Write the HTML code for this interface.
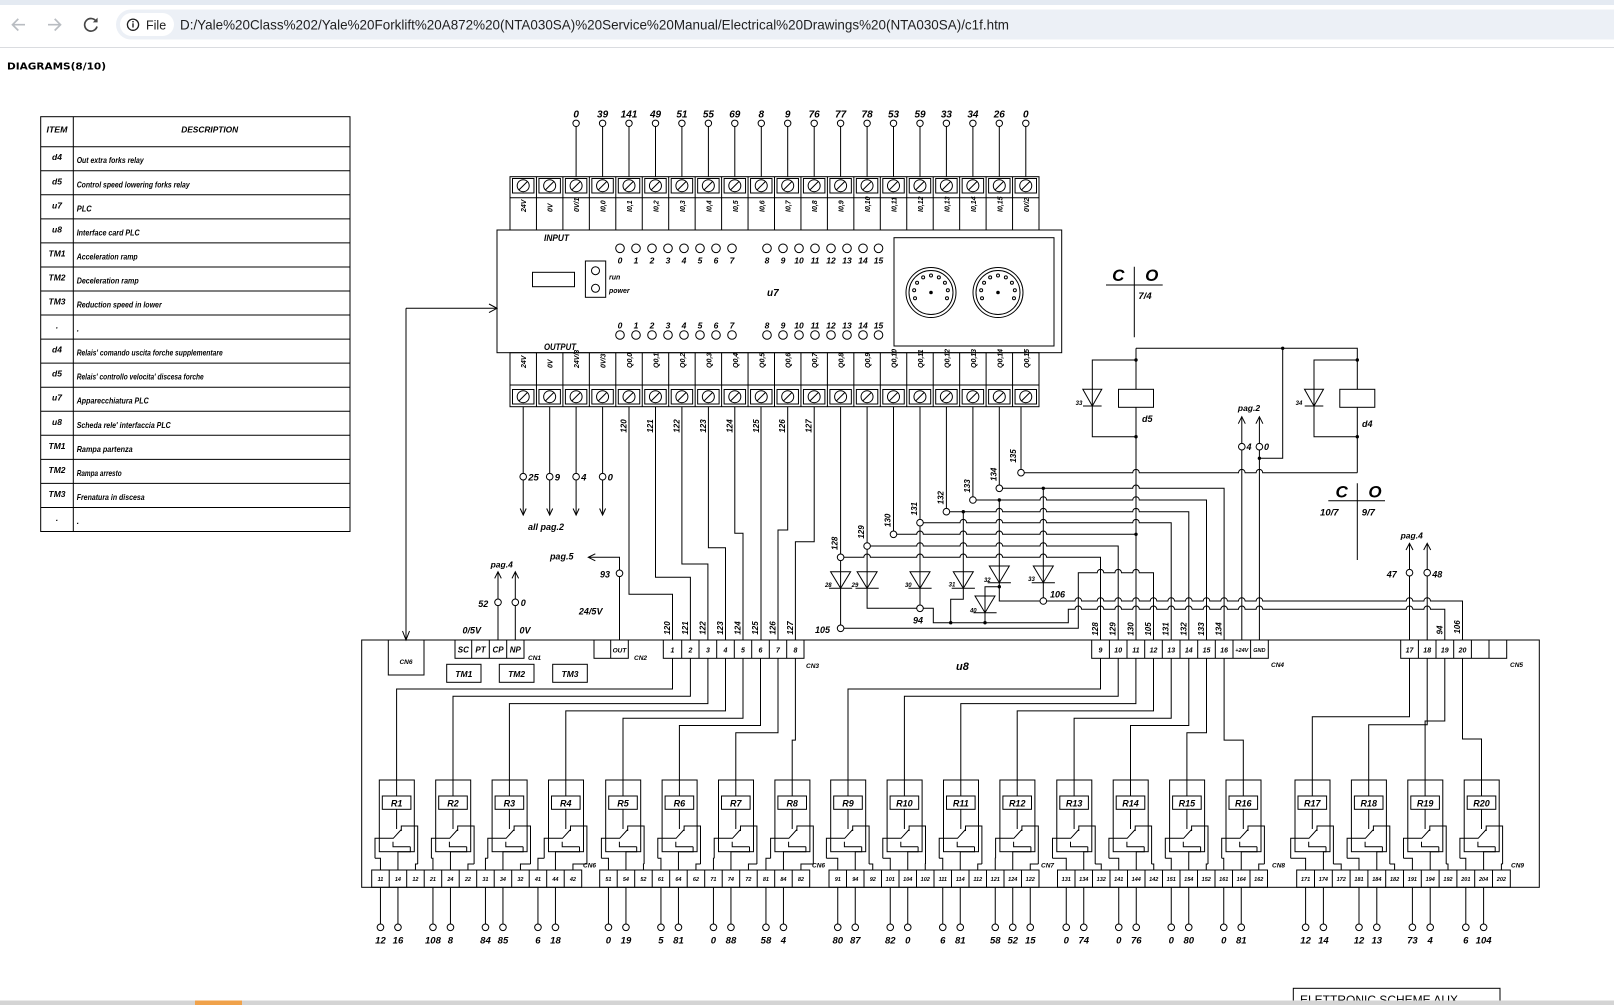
<!DOCTYPE html>
<html><head><meta charset="utf-8"><title>c1f</title>
<style>
html,body{margin:0;padding:0;background:#fff;overflow:hidden}
svg{display:block}
text{font-family:"Liberation Sans",Arial,sans-serif;font-style:italic;font-weight:bold;fill:#000}
.ui{font-style:normal;font-weight:normal;fill:#1f1f1f}
.d path,.d line,.d rect,.d circle,.d polyline,.d polygon{stroke:#000;stroke-width:1;fill:none}
.d .wf{fill:#fff}
.d .dot{fill:#000;stroke:none}
</style></head>
<body>
<svg width="1614" height="1005" viewBox="0 0 1614 1005" xmlns="http://www.w3.org/2000/svg" xmlns:xlink="http://www.w3.org/1999/xlink">
<defs>
<g id="s" fill="none" stroke="#000" stroke-width="1"><rect x="2.5" y="0" width="21.45" height="14.5"/><circle cx="13.2" cy="7.2" r="6"/><path d="M9 11.4L17.4 3"/></g>
<g id="rl" fill="none" stroke="#000" stroke-width="1"><rect x="0" y="780" width="35" height="71.7"/><rect x="3" y="796" width="28.6" height="13.3" fill="#fff"/><path d="M17.3 809.3V829M-4.3 858.3V838.3H14L22 829.5M38.4 864V826H22V831M13.7 841.7V846.7H31"/></g>
<g id="cn" fill="none" stroke="#000" stroke-width="1"><circle r="25"/><circle r="22"/><circle cx="-15.98" cy="5.81" r="1.5"/><circle cx="-16.85" cy="-2.22" r="1.5"/><circle cx="-13.93" cy="-9.75" r="1.5"/><circle cx="-7.85" cy="-15.08" r="1.5"/><circle cx="0" cy="-17" r="1.5"/><circle cx="7.85" cy="-15.08" r="1.5"/><circle cx="13.93" cy="-9.75" r="1.5"/><circle cx="16.85" cy="-2.22" r="1.5"/><circle cx="15.98" cy="5.81" r="1.5"/><circle r="1.3" fill="#000"/></g>
</defs>

<!-- browser chrome -->
<rect x="0" y="0" width="1614" height="47" fill="#ffffff"/>
<rect x="0" y="0" width="1614" height="5" fill="#e4eaf2"/>
<rect x="0" y="47" width="1614" height="1" fill="#dadce0"/>
<path d="M25 24.7H12.5M18.3 18.9L12.5 24.7L18.3 30.5" stroke="#b9bdc2" stroke-width="1.7" fill="none"/>
<path d="M48 24.7H60.5M54.7 18.9L60.5 24.7L54.7 30.5" stroke="#b9bdc2" stroke-width="1.7" fill="none"/>
<path d="M96.3 21.5A6.3 6.3 0 1 0 97 26.5" stroke="#474747" stroke-width="1.7" fill="none"/>
<path d="M97.6 17.6V22.4H92.8Z" fill="#474747"/>
<rect x="116" y="9.5" width="1520" height="30" rx="15" fill="#ecf0f6"/>
<rect x="120" y="13" width="54" height="23" rx="11.5" fill="#ffffff"/>
<circle cx="133" cy="24.7" r="5.6" stroke="#1f1f1f" stroke-width="1.3" fill="none"/>
<rect x="132.3" y="23.3" width="1.4" height="4.2" fill="#1f1f1f"/><rect x="132.3" y="21" width="1.4" height="1.4" fill="#1f1f1f"/>
<text class="ui" x="146" y="29.3" font-size="12.5">File</text>
<text class="ui" x="180" y="29.6" font-size="14" textLength="829" lengthAdjust="spacingAndGlyphs">D:/Yale%20Class%202/Yale%20Forklift%20A872%20(NTA030SA)%20Service%20Manual/Electrical%20Drawings%20(NTA030SA)/c1f.htm</text>
<text x="7" y="69.5" font-size="10" style="font-family:'DejaVu Sans',sans-serif;font-style:normal" textLength="99" lengthAdjust="spacingAndGlyphs">DIAGRAMS(8/10)</text>

<!-- table -->
<g class="d">
<rect x="40.7" y="116.7" width="309.3" height="414.8"/>
<path d="M73.3 116.7V531.5M40.7 146.7H350M40.7 170.75H350M40.7 194.8H350M40.7 218.85H350M40.7 242.9H350M40.7 266.95H350M40.7 291H350M40.7 315.05H350M40.7 339.1H350M40.7 363.15H350M40.7 387.2H350M40.7 411.25H350M40.7 435.3H350M40.7 459.35H350M40.7 483.4H350M40.7 507.45H350"/>
</g>
<g font-size="8.5">
<text x="57" y="132.5" text-anchor="middle" textLength="21" lengthAdjust="spacingAndGlyphs">ITEM</text>
<text x="209.7" y="132.5" text-anchor="middle" textLength="57" lengthAdjust="spacingAndGlyphs">DESCRIPTION</text>
<g text-anchor="middle">
<text x="57" y="160.2">d4</text><text x="57" y="184.25">d5</text><text x="57" y="208.3">u7</text><text x="57" y="232.35">u8</text>
<text x="57" y="256.4">TM1</text><text x="57" y="280.45">TM2</text><text x="57" y="304.5">TM3</text><text x="57" y="328.55">.</text>
<text x="57" y="352.6">d4</text><text x="57" y="376.65">d5</text><text x="57" y="400.7">u7</text><text x="57" y="424.75">u8</text>
<text x="57" y="448.8">TM1</text><text x="57" y="472.85">TM2</text><text x="57" y="496.9">TM3</text><text x="57" y="520.95">.</text>
</g>
<g>
<text x="76.7" y="163.2" textLength="67" lengthAdjust="spacingAndGlyphs">Out extra forks relay</text>
<text x="76.7" y="187.25" textLength="113" lengthAdjust="spacingAndGlyphs">Control speed lowering forks relay</text>
<text x="76.7" y="211.3" textLength="15" lengthAdjust="spacingAndGlyphs">PLC</text>
<text x="76.7" y="235.35" textLength="63" lengthAdjust="spacingAndGlyphs">Interface card PLC</text>
<text x="76.7" y="259.4" textLength="61" lengthAdjust="spacingAndGlyphs">Acceleration ramp</text>
<text x="76.7" y="283.45" textLength="62" lengthAdjust="spacingAndGlyphs">Deceleration ramp</text>
<text x="76.7" y="307.5" textLength="85" lengthAdjust="spacingAndGlyphs">Reduction speed in lower</text>
<text x="76.7" y="331.55">.</text>
<text x="76.7" y="355.6" textLength="146" lengthAdjust="spacingAndGlyphs">Relais' comando uscita forche supplementare</text>
<text x="76.7" y="379.65" textLength="127" lengthAdjust="spacingAndGlyphs">Relais' controllo velocita' discesa forche</text>
<text x="76.7" y="403.7" textLength="72" lengthAdjust="spacingAndGlyphs">Apparecchiatura PLC</text>
<text x="76.7" y="427.75" textLength="94" lengthAdjust="spacingAndGlyphs">Scheda rele' interfaccia PLC</text>
<text x="76.7" y="451.8" textLength="56" lengthAdjust="spacingAndGlyphs">Rampa partenza</text>
<text x="76.7" y="475.85" textLength="45" lengthAdjust="spacingAndGlyphs">Rampa arresto</text>
<text x="76.7" y="499.9" textLength="68" lengthAdjust="spacingAndGlyphs">Frenatura in discesa</text>
<text x="76.7" y="523.95">.</text>
</g>
</g>

<!-- PLC -->
<g class="d">
<path d="M576.1 126.5V176.7M602.6 126.5V176.7M629 126.5V176.7M655.5 126.5V176.7M681.9 126.5V176.7M708.4 126.5V176.7M734.8 126.5V176.7M761.3 126.5V176.7M787.7 126.5V176.7M814.2 126.5V176.7M840.6 126.5V176.7M867.1 126.5V176.7M893.5 126.5V176.7M920 126.5V176.7M946.4 126.5V176.7M972.9 126.5V176.7M999.3 126.5V176.7M1025.8 126.5V176.7"/>
<circle cx="576.1" cy="123.3" r="3.2"/><circle cx="602.6" cy="123.3" r="3.2"/><circle cx="629" cy="123.3" r="3.2"/><circle cx="655.5" cy="123.3" r="3.2"/><circle cx="681.9" cy="123.3" r="3.2"/><circle cx="708.4" cy="123.3" r="3.2"/><circle cx="734.8" cy="123.3" r="3.2"/><circle cx="761.3" cy="123.3" r="3.2"/><circle cx="787.7" cy="123.3" r="3.2"/><circle cx="814.2" cy="123.3" r="3.2"/><circle cx="840.6" cy="123.3" r="3.2"/><circle cx="867.1" cy="123.3" r="3.2"/><circle cx="893.5" cy="123.3" r="3.2"/><circle cx="920" cy="123.3" r="3.2"/><circle cx="946.4" cy="123.3" r="3.2"/><circle cx="972.9" cy="123.3" r="3.2"/><circle cx="999.3" cy="123.3" r="3.2"/><circle cx="1025.8" cy="123.3" r="3.2"/>
<rect x="510" y="176.7" width="529" height="53.3"/>
<path d="M510 197.7H1039M536.45 176.7V230M562.9 176.7V230M589.35 176.7V230M615.8 176.7V230M642.25 176.7V230M668.7 176.7V230M695.15 176.7V230M721.6 176.7V230M748.05 176.7V230M774.5 176.7V230M800.95 176.7V230M827.4 176.7V230M853.85 176.7V230M880.3 176.7V230M906.75 176.7V230M933.2 176.7V230M959.65 176.7V230M986.1 176.7V230M1012.55 176.7V230"/>
<rect x="497" y="230" width="564.7" height="122.7"/>
<rect x="510" y="352.7" width="529" height="54"/>
<path d="M510 385H1039M536.45 352.7V406.7M562.9 352.7V406.7M589.35 352.7V406.7M615.8 352.7V406.7M642.25 352.7V406.7M668.7 352.7V406.7M695.15 352.7V406.7M721.6 352.7V406.7M748.05 352.7V406.7M774.5 352.7V406.7M800.95 352.7V406.7M827.4 352.7V406.7M853.85 352.7V406.7M880.3 352.7V406.7M906.75 352.7V406.7M933.2 352.7V406.7M959.65 352.7V406.7M986.1 352.7V406.7M1012.55 352.7V406.7"/>
<rect x="532.5" y="272.3" width="42" height="14.4"/>
<rect x="585.4" y="261" width="20.3" height="36.3"/>
<circle cx="595.5" cy="270.7" r="4"/><circle cx="595.5" cy="288.3" r="4"/>
<rect x="894" y="237.7" width="160" height="108.3"/>
<circle cx="620" cy="248.3" r="4.3"/><circle cx="636" cy="248.3" r="4.3"/><circle cx="652" cy="248.3" r="4.3"/><circle cx="668" cy="248.3" r="4.3"/><circle cx="684" cy="248.3" r="4.3"/><circle cx="700" cy="248.3" r="4.3"/><circle cx="716" cy="248.3" r="4.3"/><circle cx="732" cy="248.3" r="4.3"/>
<circle cx="767" cy="248.3" r="4.3"/><circle cx="783" cy="248.3" r="4.3"/><circle cx="799" cy="248.3" r="4.3"/><circle cx="815" cy="248.3" r="4.3"/><circle cx="831" cy="248.3" r="4.3"/><circle cx="847" cy="248.3" r="4.3"/><circle cx="863" cy="248.3" r="4.3"/><circle cx="878.5" cy="248.3" r="4.3"/>
<circle cx="620" cy="335" r="4.3"/><circle cx="636" cy="335" r="4.3"/><circle cx="652" cy="335" r="4.3"/><circle cx="668" cy="335" r="4.3"/><circle cx="684" cy="335" r="4.3"/><circle cx="700" cy="335" r="4.3"/><circle cx="716" cy="335" r="4.3"/><circle cx="732" cy="335" r="4.3"/>
<circle cx="767" cy="335" r="4.3"/><circle cx="783" cy="335" r="4.3"/><circle cx="799" cy="335" r="4.3"/><circle cx="815" cy="335" r="4.3"/><circle cx="831" cy="335" r="4.3"/><circle cx="847" cy="335" r="4.3"/><circle cx="863" cy="335" r="4.3"/><circle cx="878.5" cy="335" r="4.3"/>
</g>
<use href="#cn" xlink:href="#cn" x="931" y="292.5"/>
<use href="#cn" xlink:href="#cn" x="998" y="292.5"/>
<use href="#s" xlink:href="#s" x="510" y="178.5"/><use href="#s" xlink:href="#s" x="536.45" y="178.5"/><use href="#s" xlink:href="#s" x="562.9" y="178.5"/><use href="#s" xlink:href="#s" x="589.35" y="178.5"/><use href="#s" xlink:href="#s" x="615.8" y="178.5"/><use href="#s" xlink:href="#s" x="642.25" y="178.5"/><use href="#s" xlink:href="#s" x="668.7" y="178.5"/><use href="#s" xlink:href="#s" x="695.15" y="178.5"/><use href="#s" xlink:href="#s" x="721.6" y="178.5"/><use href="#s" xlink:href="#s" x="748.05" y="178.5"/><use href="#s" xlink:href="#s" x="774.5" y="178.5"/><use href="#s" xlink:href="#s" x="800.95" y="178.5"/><use href="#s" xlink:href="#s" x="827.4" y="178.5"/><use href="#s" xlink:href="#s" x="853.85" y="178.5"/><use href="#s" xlink:href="#s" x="880.3" y="178.5"/><use href="#s" xlink:href="#s" x="906.75" y="178.5"/><use href="#s" xlink:href="#s" x="933.2" y="178.5"/><use href="#s" xlink:href="#s" x="959.65" y="178.5"/><use href="#s" xlink:href="#s" x="986.1" y="178.5"/><use href="#s" xlink:href="#s" x="1012.55" y="178.5"/>
<use href="#s" xlink:href="#s" x="510" y="389.5"/><use href="#s" xlink:href="#s" x="536.45" y="389.5"/><use href="#s" xlink:href="#s" x="562.9" y="389.5"/><use href="#s" xlink:href="#s" x="589.35" y="389.5"/><use href="#s" xlink:href="#s" x="615.8" y="389.5"/><use href="#s" xlink:href="#s" x="642.25" y="389.5"/><use href="#s" xlink:href="#s" x="668.7" y="389.5"/><use href="#s" xlink:href="#s" x="695.15" y="389.5"/><use href="#s" xlink:href="#s" x="721.6" y="389.5"/><use href="#s" xlink:href="#s" x="748.05" y="389.5"/><use href="#s" xlink:href="#s" x="774.5" y="389.5"/><use href="#s" xlink:href="#s" x="800.95" y="389.5"/><use href="#s" xlink:href="#s" x="827.4" y="389.5"/><use href="#s" xlink:href="#s" x="853.85" y="389.5"/><use href="#s" xlink:href="#s" x="880.3" y="389.5"/><use href="#s" xlink:href="#s" x="906.75" y="389.5"/><use href="#s" xlink:href="#s" x="933.2" y="389.5"/><use href="#s" xlink:href="#s" x="959.65" y="389.5"/><use href="#s" xlink:href="#s" x="986.1" y="389.5"/><use href="#s" xlink:href="#s" x="1012.55" y="389.5"/>

<!-- PLC texts -->
<g font-size="10" text-anchor="middle">
<text x="576.1" y="117.5">0</text><text x="602.6" y="117.5">39</text><text x="629" y="117.5">141</text><text x="655.5" y="117.5">49</text><text x="681.9" y="117.5">51</text><text x="708.4" y="117.5">55</text><text x="734.8" y="117.5">69</text><text x="761.3" y="117.5">8</text><text x="787.7" y="117.5">9</text><text x="814.2" y="117.5">76</text><text x="840.6" y="117.5">77</text><text x="867.1" y="117.5">78</text><text x="893.5" y="117.5">53</text><text x="920" y="117.5">59</text><text x="946.4" y="117.5">33</text><text x="972.9" y="117.5">34</text><text x="999.3" y="117.5">26</text><text x="1025.8" y="117.5">0</text>
</g>
<g font-size="7">
<text transform="translate(526.2 212) rotate(-90)">24V</text><text transform="translate(552.7 212) rotate(-90)">0V</text><text transform="translate(579.1 212) rotate(-90)">0V/1</text><text transform="translate(605.6 212) rotate(-90)">I0,0</text><text transform="translate(632 212) rotate(-90)">I0,1</text><text transform="translate(658.5 212) rotate(-90)">I0,2</text><text transform="translate(684.9 212) rotate(-90)">I0,3</text><text transform="translate(711.4 212) rotate(-90)">I0,4</text><text transform="translate(737.8 212) rotate(-90)">I0,5</text><text transform="translate(764.3 212) rotate(-90)">I0,6</text><text transform="translate(790.7 212) rotate(-90)">I0,7</text><text transform="translate(817.2 212) rotate(-90)">I0,8</text><text transform="translate(843.6 212) rotate(-90)">I0,9</text><text transform="translate(870.1 212) rotate(-90)">I0,10</text><text transform="translate(896.5 212) rotate(-90)">I0,11</text><text transform="translate(923 212) rotate(-90)">I0,12</text><text transform="translate(949.4 212) rotate(-90)">I0,13</text><text transform="translate(975.9 212) rotate(-90)">I0,14</text><text transform="translate(1002.3 212) rotate(-90)">I0,15</text><text transform="translate(1028.8 212) rotate(-90)">0V/2</text>
<text transform="translate(526.2 368) rotate(-90)">24V</text><text transform="translate(552.7 368) rotate(-90)">0V</text><text transform="translate(579.1 368) rotate(-90)">24V/3</text><text transform="translate(605.6 368) rotate(-90)">0V/3</text><text transform="translate(632 368) rotate(-90)">Q0,0</text><text transform="translate(658.5 368) rotate(-90)">Q0,1</text><text transform="translate(684.9 368) rotate(-90)">Q0,2</text><text transform="translate(711.4 368) rotate(-90)">Q0,3</text><text transform="translate(737.8 368) rotate(-90)">Q0,4</text><text transform="translate(764.3 368) rotate(-90)">Q0,5</text><text transform="translate(790.7 368) rotate(-90)">Q0,6</text><text transform="translate(817.2 368) rotate(-90)">Q0,7</text><text transform="translate(843.6 368) rotate(-90)">Q0,8</text><text transform="translate(870.1 368) rotate(-90)">Q0,9</text><text transform="translate(896.5 368) rotate(-90)">Q0,10</text><text transform="translate(923 368) rotate(-90)">Q0,11</text><text transform="translate(949.4 368) rotate(-90)">Q0,12</text><text transform="translate(975.9 368) rotate(-90)">Q0,13</text><text transform="translate(1002.3 368) rotate(-90)">Q0,14</text><text transform="translate(1028.8 368) rotate(-90)">Q0,15</text>
</g>
<text x="544" y="241" font-size="9" textLength="25" lengthAdjust="spacingAndGlyphs">INPUT</text>
<text x="544" y="350" font-size="9" textLength="32" lengthAdjust="spacingAndGlyphs">OUTPUT</text>
<text x="767" y="296" font-size="10">u7</text>
<text x="609" y="279.5" font-size="7">run</text>
<text x="609" y="293" font-size="7">power</text>
<g font-size="8.5" text-anchor="middle">
<text x="620" y="263.5">0</text><text x="636" y="263.5">1</text><text x="652" y="263.5">2</text><text x="668" y="263.5">3</text><text x="684" y="263.5">4</text><text x="700" y="263.5">5</text><text x="716" y="263.5">6</text><text x="732" y="263.5">7</text><text x="767" y="263.5">8</text><text x="783" y="263.5">9</text><text x="799" y="263.5">10</text><text x="815" y="263.5">11</text><text x="831" y="263.5">12</text><text x="847" y="263.5">13</text><text x="863" y="263.5">14</text><text x="878.5" y="263.5">15</text>
<text x="620" y="328.5">0</text><text x="636" y="328.5">1</text><text x="652" y="328.5">2</text><text x="668" y="328.5">3</text><text x="684" y="328.5">4</text><text x="700" y="328.5">5</text><text x="716" y="328.5">6</text><text x="732" y="328.5">7</text><text x="767" y="328.5">8</text><text x="783" y="328.5">9</text><text x="799" y="328.5">10</text><text x="815" y="328.5">11</text><text x="831" y="328.5">12</text><text x="847" y="328.5">13</text><text x="863" y="328.5">14</text><text x="878.5" y="328.5">15</text>
</g>

<!-- wiring below PLC -->
<g class="d">
<path d="M523.2 406.7V473.4M523.2 480V515M549.7 406.7V473.4M549.7 480V515M576.1 406.7V473.4M576.1 480V515M602.6 406.7V473.4M602.6 480V515"/>
<circle cx="523.2" cy="476.7" r="3.3"/><circle cx="549.7" cy="476.7" r="3.3"/><circle cx="576.1" cy="476.7" r="3.3"/><circle cx="602.6" cy="476.7" r="3.3"/>
<path d="M520.2 508.5L523.2 515L526.2 508.5M546.7 508.5L549.7 515L552.7 508.5M573.1 508.5L576.1 515L579.1 508.5M599.6 508.5L602.6 515L605.6 508.5"/>
<path d="M629 406.7V594.3H672.5V640M655.5 406.7V577.3H690.4V640M681.9 406.7V564H707.9V640M708.4 406.7V547.7H725.5V640M734.8 406.7V533.3H743V640M761 406.7V640M787.7 406.7V530H778V640M814.2 406.7V541.7H795.4V640"/>
<path d="M840.6 406.7V554M867.1 406.7V542.7M893.5 406.7V531M920 406.7V519.4M946.4 406.7V508.4M972.9 406.7V496.7M999.3 406.7V485M1021 406.7V469.4"/>
<path d="M840.6 560.6V625M867.1 549.3V608.3H916.7M920 526V605M963.3 511.7V599.3H950.7V622.7M999.3 500V601H1040M999.3 586.7H985V622.7M1043.3 488.3V597.7"/>
<path d="M843.9 557.3H863.8a3.3 3.3 0 0 1 6.6 0H916.7a3.3 3.3 0 0 1 6.6 0H960a3.3 3.3 0 0 1 6.6 0H996a3.3 3.3 0 0 1 6.6 0H1040a3.3 3.3 0 0 1 6.6 0H1100.5V640"/>
<path d="M870.4 546H916.7a3.3 3.3 0 0 1 6.6 0H960a3.3 3.3 0 0 1 6.6 0H996a3.3 3.3 0 0 1 6.6 0H1040a3.3 3.3 0 0 1 6.6 0H1118.2V640"/>
<path d="M896.8 534.3H916.7a3.3 3.3 0 0 1 6.6 0H960a3.3 3.3 0 0 1 6.6 0H996a3.3 3.3 0 0 1 6.6 0H1040a3.3 3.3 0 0 1 6.6 0H1136"/>
<path d="M923.3 522.7H960a3.3 3.3 0 0 1 6.6 0H996a3.3 3.3 0 0 1 6.6 0H1040a3.3 3.3 0 0 1 6.6 0H1132.7a3.3 3.3 0 0 1 6.6 0H1171.2V640"/>
<path d="M949.7 511.7H996a3.3 3.3 0 0 1 6.6 0H1040a3.3 3.3 0 0 1 6.6 0H1132.7a3.3 3.3 0 0 1 6.6 0H1188.8V640"/>
<path d="M976.2 500H1040a3.3 3.3 0 0 1 6.6 0H1132.7a3.3 3.3 0 0 1 6.6 0H1206.5V640"/>
<path d="M1002.6 488.3H1132.7a3.3 3.3 0 0 1 6.6 0H1224.1V640"/>
<path d="M1024.3 472.7H1132.7a3.3 3.3 0 0 1 6.6 0H1238.5a3.3 3.3 0 0 1 6.6 0H1256.1a3.3 3.3 0 0 1 6.6 0H1357.3"/>
<path d="M1046.6 601H1075a3.3 3.3 0 0 1 6.6 0H1097.2a3.3 3.3 0 0 1 6.6 0H1114.9a3.3 3.3 0 0 1 6.6 0H1132.7a3.3 3.3 0 0 1 6.6 0H1150.2a3.3 3.3 0 0 1 6.6 0H1167.9a3.3 3.3 0 0 1 6.6 0H1185.5a3.3 3.3 0 0 1 6.6 0H1203.2a3.3 3.3 0 0 1 6.6 0H1220.8a3.3 3.3 0 0 1 6.6 0H1238.5a3.3 3.3 0 0 1 6.6 0H1256.1a3.3 3.3 0 0 1 6.6 0H1406.2a3.3 3.3 0 0 1 6.6 0H1423.9a3.3 3.3 0 0 1 6.6 0H1462.5V640"/>
<path d="M923.3 608.3H933.3V622.7H1068.3V609.3H1075a3.3 3.3 0 0 1 6.6 0H1097.2a3.3 3.3 0 0 1 6.6 0H1114.9a3.3 3.3 0 0 1 6.6 0H1132.7a3.3 3.3 0 0 1 6.6 0H1150.2a3.3 3.3 0 0 1 6.6 0H1167.9a3.3 3.3 0 0 1 6.6 0H1185.5a3.3 3.3 0 0 1 6.6 0H1203.2a3.3 3.3 0 0 1 6.6 0H1220.8a3.3 3.3 0 0 1 6.6 0H1238.5a3.3 3.3 0 0 1 6.6 0H1256.1a3.3 3.3 0 0 1 6.6 0H1406.2a3.3 3.3 0 0 1 6.6 0H1423.9a3.3 3.3 0 0 1 6.6 0H1444.8V640"/>
<path d="M843.9 628.3H1078.3V572.7H1097.2a3.3 3.3 0 0 1 6.6 0H1114.9a3.3 3.3 0 0 1 6.6 0H1132.7a3.3 3.3 0 0 1 6.6 0H1153.5V640"/>
<circle cx="840.6" cy="557.3" r="3.3"/><circle cx="867.1" cy="546" r="3.3"/><circle cx="893.5" cy="534.3" r="3.3"/><circle cx="920" cy="522.7" r="3.3"/><circle cx="946.4" cy="511.7" r="3.3"/><circle cx="972.9" cy="500" r="3.3"/><circle cx="999.3" cy="488.3" r="3.3"/><circle cx="1021" cy="472.7" r="3.3"/>
<circle cx="840.6" cy="628.3" r="3.3"/><circle cx="920" cy="608.3" r="3.3"/><circle cx="1043.3" cy="601" r="3.3"/>
<polygon points="830.6,571.7 850.6,571.7 840.6,588.3"/><path d="M829 588.3H852.2"/>
<polygon points="857.1,571.7 877.1,571.7 867.1,588.3"/><path d="M855.5 588.3H878.7"/>
<polygon points="910,571.7 930,571.7 920,588.3"/><path d="M908.4 588.3H931.6"/>
<polygon points="953.3,571.7 973.3,571.7 963.3,588.3"/><path d="M951.7 588.3H974.9"/>
<polygon points="989.3,566 1009.3,566 999.3,582.7"/><path d="M987.7 582.7H1010.9"/>
<polygon points="1033.3,566 1053.3,566 1043.3,582.7"/><path d="M1031.7 582.7H1054.9"/>
<polygon points="975,596 995,596 985,612.7"/><path d="M973.4 612.7H996.6"/>
<circle class="dot" cx="963.3" cy="511.7" r="1.7"/><circle class="dot" cx="999.3" cy="500" r="1.7"/><circle class="dot" cx="1043.3" cy="488.3" r="1.7"/><circle class="dot" cx="1136" cy="534.3" r="1.7"/><circle class="dot" cx="999.3" cy="586.7" r="1.7"/><circle class="dot" cx="950.7" cy="622.7" r="1.7"/><circle class="dot" cx="985" cy="622.7" r="1.7"/>

<!-- relays d5 d4 -->
<path d="M1136 348.3V640M1136 348.3H1357.3V472.7M1136 360H1092.3V436.7H1136M1357.3 360H1314V436.7H1357.3M1282.7 348.3V458.3H1259.4M1241.8 416.7V640M1259.4 416.7V640"/>
<path d="M1238.3 423.7L1241.8 416.7L1245.3 423.7M1255.9 423.7L1259.4 416.7L1262.9 423.7"/>
<circle class="wf" cx="1241.8" cy="446.7" r="3.3"/><circle class="wf" cx="1259.4" cy="446.7" r="3.3"/>
<rect class="wf" x="1118.5" y="389.3" width="35" height="18"/>
<rect class="wf" x="1339.8" y="389.3" width="35" height="18"/>
<polygon points="1082.8,389.3 1101.8,389.3 1092.3,406"/><path d="M1083 406H1101.6"/>
<polygon points="1304.5,389.3 1323.5,389.3 1314,406"/><path d="M1304.7 406H1323.3"/>
<circle class="dot" cx="1136" cy="360" r="1.7"/><circle class="dot" cx="1136" cy="436.7" r="1.7"/><circle class="dot" cx="1357.3" cy="360" r="1.7"/><circle class="dot" cx="1357.3" cy="436.7" r="1.7"/><circle class="dot" cx="1282.7" cy="348.3" r="1.7"/><circle class="dot" cx="1259.4" cy="458.3" r="1.7"/>
<path d="M1106 285H1162.7M1134.3 266.7V337.3M1328.3 500.7H1385M1357.3 483.3V560"/>
<path d="M1409.5 543.3V640M1427.2 543.3V640M1406 550L1409.5 543.3L1413 550M1423.7 550L1427.2 543.3L1430.7 550"/>
<circle class="wf" cx="1409.5" cy="572.7" r="3.3"/><circle class="wf" cx="1427.2" cy="572.7" r="3.3"/>

<!-- card u8 -->
<rect x="361.7" y="640" width="1177.6" height="247.3"/>
<rect x="388.3" y="640" width="35.7" height="35"/>
<path d="M406 308.3V640M406 308.3H497M489 304L497 308.3L489 312.6M402.5 631L406 640L409.5 631"/>
<rect x="455" y="640" width="69" height="18.3"/><path d="M471.7 640V658.3M489.3 640V658.3M506.7 640V658.3"/>
<rect x="446.7" y="664.3" width="34.3" height="18"/><rect x="499.3" y="664.3" width="34.7" height="18"/><rect x="552.7" y="664.3" width="34.6" height="18"/>
<path d="M498 571.7V640M515.3 571.7V640M494.7 578.4L498 571.7L501.3 578.4M512 578.4L515.3 571.7L518.6 578.4"/>
<circle class="wf" cx="498" cy="602.3" r="3.3"/><circle class="wf" cx="515.3" cy="602.3" r="3.3"/>
<rect x="594" y="640" width="34.3" height="18.3"/><path d="M610.7 640V658.3"/>
<path d="M619.5 640V557.3H588.8M595.3 553.8L588.3 557.3L595.3 560.8"/>
<circle class="wf" cx="619.5" cy="573.3" r="3.3"/>
<rect x="663.3" y="640" width="140.7" height="18.3"/><path d="M681.7 640V658.3M699 640V658.3M716.7 640V658.3M734.3 640V658.3M751.7 640V658.3M769.3 640V658.3M786.7 640V658.3"/>
<rect x="1091.7" y="640" width="176.6" height="18.3"/><path d="M1109.4 640V658.3M1127 640V658.3M1144.7 640V658.3M1162.3 640V658.3M1180 640V658.3M1197.7 640V658.3M1215.3 640V658.3M1233 640V658.3M1250.6 640V658.3"/>
<rect x="1400.7" y="640" width="106" height="18.3"/><path d="M1418.4 640V658.3M1436 640V658.3M1453.7 640V658.3M1471.4 640V658.3M1489 640V658.3"/>
<!-- coil wiring -->
<path d="M672.5 658.3V689H396.6V796M690.4 658.3V696.3H453V796M707.9 658.3V703.6H509.4V796M725.5 658.3V710.9H565.8V796M743 658.3V718.2H623V796M760.5 658.3V725.5H679.4V796M778 658.3V732.8H735.8V796M795.4 658.3V740.1H792.2V796"/>
<path d="M1100.5 658.3V689H848V796M1118.2 658.3V696.3H904.4V796M1135.9 658.3V703.6H960.8V796M1153.5 658.3V710.9H1017.2V796M1171.2 658.3V718.2H1074.1V796M1188.8 658.3V725.5H1130.5V796M1206.5 658.3V732.8H1186.9V796M1224.1 658.3V740.1H1243.3V796"/>
<path d="M1409.5 658.3V716.7H1312.3V796M1427.2 658.3V724.7H1368.7V796M1444.8 658.3V721H1425.1V796M1462.5 658.3V739H1481.5V796"/>
<!-- relay terminal strips -->
<rect x="371.7" y="870" width="210" height="17.3"/><path d="M389.2 870v17.3M406.7 870v17.3M424.2 870v17.3M441.7 870v17.3M459.2 870v17.3M476.7 870v17.3M494.2 870v17.3M511.7 870v17.3M529.2 870v17.3M546.7 870v17.3M564.2 870v17.3"/>
<rect x="599.7" y="870" width="210" height="17.3"/><path d="M617.2 870v17.3M634.7 870v17.3M652.2 870v17.3M669.7 870v17.3M687.2 870v17.3M704.7 870v17.3M722.2 870v17.3M739.7 870v17.3M757.2 870v17.3M774.7 870v17.3M792.2 870v17.3"/>
<rect x="829" y="870" width="210" height="17.3"/><path d="M846.5 870v17.3M864 870v17.3M881.5 870v17.3M899 870v17.3M916.5 870v17.3M934 870v17.3M951.5 870v17.3M969 870v17.3M986.5 870v17.3M1004 870v17.3M1021.5 870v17.3"/>
<rect x="1057.5" y="870" width="210" height="17.3"/><path d="M1075 870v17.3M1092.5 870v17.3M1110 870v17.3M1127.5 870v17.3M1145 870v17.3M1162.5 870v17.3M1180 870v17.3M1197.5 870v17.3M1215 870v17.3M1232.5 870v17.3M1250 870v17.3"/>
<rect x="1296.7" y="870" width="213.6" height="17.3"/><path d="M1314.5 870v17.3M1332.3 870v17.3M1350.1 870v17.3M1367.9 870v17.3M1385.7 870v17.3M1403.5 870v17.3M1421.3 870v17.3M1439.1 870v17.3M1456.9 870v17.3M1474.7 870v17.3M1492.5 870v17.3"/>
<!-- relay contact terminal links -->
<path d="M380.45 870V858.3H375M397.95 870V851.7H410.3V846.7M415.45 870V864H417.7
M432.95 870V858.3H431.4M450.45 870V851.7H466.7V846.7M467.95 870V864H474.1
M485.45 870V858.3H487.8M502.95 870V851.7H523.1V846.7M520.45 870V864H530.5
M537.95 870V858.3H544.2M555.45 870V851.7H579.5V846.7M572.95 870V864H586.9
M608.45 870V858.3H601.4M625.95 870V851.7H636.7V846.7M643.45 870V864H644.1
M660.95 870V858.3H657.8M678.45 870V851.7H693.1V846.7M695.95 870V864H700.5
M713.45 870V858.3H714.2M730.95 870V851.7H749.5V846.7M748.45 870V864H756.9
M765.95 870V858.3H770.6M783.45 870V851.7H805.9V846.7M800.95 870V864H813.3
M837.75 870V858.3H826.4M855.25 870V851.7H861.7V846.7M872.75 870V864H869.1
M890.25 870V858.3H882.8M907.75 870V851.7H918.1V846.7M925.25 870V864H925.5
M942.75 870V858.3H939.2M960.25 870V851.7H974.5V846.7M977.75 870V864H981.9
M995.25 870V858.3H995.6M1012.75 870V851.7H1030.9V846.7M1030.25 870V864H1038.3
M1066.25 870V858.3H1052.5M1083.75 870V851.7H1087.8V846.7M1101.25 870V864H1095.2
M1118.75 870V858.3H1108.9M1136.25 870V851.7H1144.2V846.7M1153.75 870V864H1151.6
M1171.25 870V858.3H1165.3M1188.75 870V851.7H1200.6V846.7M1206.25 870V864H1208
M1223.75 870V858.3H1221.7M1241.25 870V851.7H1257V846.7M1258.75 870V864H1264.4
M1305.6 870V858.3H1290.7M1323.4 870V851.7H1326V846.7M1341.2 870V864H1333.4
M1359 870V858.3H1347.1M1376.8 870V851.7H1382.4V846.7M1394.6 870V864H1389.8
M1412.4 870V858.3H1403.5M1430.2 870V851.7H1438.8V846.7M1448 870V864H1446.2
M1465.8 870V858.3H1459.9M1483.6 870V851.7H1495.2V846.7M1501.4 870V864H1502.6"/>
<!-- output lines -->
<path d="M380.45 887.3V924M397.95 887.3V924M432.95 887.3V924M450.45 887.3V924M485.45 887.3V924M502.95 887.3V924M537.95 887.3V924M555.45 887.3V924M608.45 887.3V924M625.95 887.3V924M660.95 887.3V924M678.45 887.3V924M713.45 887.3V924M730.95 887.3V924M765.95 887.3V924M783.45 887.3V924M837.75 887.3V924M855.25 887.3V924M890.25 887.3V924M907.75 887.3V924M942.75 887.3V924M960.25 887.3V924M995.25 887.3V924M1012.75 887.3V924M1030.25 887.3V924M1066.25 887.3V924M1083.75 887.3V924M1118.75 887.3V924M1136.25 887.3V924M1171.25 887.3V924M1188.75 887.3V924M1223.75 887.3V924M1241.25 887.3V924M1305.6 887.3V924M1323.4 887.3V924M1359 887.3V924M1376.8 887.3V924M1412.4 887.3V924M1430.2 887.3V924M1465.8 887.3V924M1483.6 887.3V924"/>
<circle cx="380.45" cy="927.3" r="3.3"/><circle cx="397.95" cy="927.3" r="3.3"/><circle cx="432.95" cy="927.3" r="3.3"/><circle cx="450.45" cy="927.3" r="3.3"/><circle cx="485.45" cy="927.3" r="3.3"/><circle cx="502.95" cy="927.3" r="3.3"/><circle cx="537.95" cy="927.3" r="3.3"/><circle cx="555.45" cy="927.3" r="3.3"/><circle cx="608.45" cy="927.3" r="3.3"/><circle cx="625.95" cy="927.3" r="3.3"/><circle cx="660.95" cy="927.3" r="3.3"/><circle cx="678.45" cy="927.3" r="3.3"/><circle cx="713.45" cy="927.3" r="3.3"/><circle cx="730.95" cy="927.3" r="3.3"/><circle cx="765.95" cy="927.3" r="3.3"/><circle cx="783.45" cy="927.3" r="3.3"/><circle cx="837.75" cy="927.3" r="3.3"/><circle cx="855.25" cy="927.3" r="3.3"/><circle cx="890.25" cy="927.3" r="3.3"/><circle cx="907.75" cy="927.3" r="3.3"/><circle cx="942.75" cy="927.3" r="3.3"/><circle cx="960.25" cy="927.3" r="3.3"/><circle cx="995.25" cy="927.3" r="3.3"/><circle cx="1012.75" cy="927.3" r="3.3"/><circle cx="1030.25" cy="927.3" r="3.3"/><circle cx="1066.25" cy="927.3" r="3.3"/><circle cx="1083.75" cy="927.3" r="3.3"/><circle cx="1118.75" cy="927.3" r="3.3"/><circle cx="1136.25" cy="927.3" r="3.3"/><circle cx="1171.25" cy="927.3" r="3.3"/><circle cx="1188.75" cy="927.3" r="3.3"/><circle cx="1223.75" cy="927.3" r="3.3"/><circle cx="1241.25" cy="927.3" r="3.3"/><circle cx="1305.6" cy="927.3" r="3.3"/><circle cx="1323.4" cy="927.3" r="3.3"/><circle cx="1359" cy="927.3" r="3.3"/><circle cx="1376.8" cy="927.3" r="3.3"/><circle cx="1412.4" cy="927.3" r="3.3"/><circle cx="1430.2" cy="927.3" r="3.3"/><circle cx="1465.8" cy="927.3" r="3.3"/><circle cx="1483.6" cy="927.3" r="3.3"/>
</g>
<use href="#rl" xlink:href="#rl" x="379.3"/><use href="#rl" xlink:href="#rl" x="435.7"/><use href="#rl" xlink:href="#rl" x="492.1"/><use href="#rl" xlink:href="#rl" x="548.5"/>
<use href="#rl" xlink:href="#rl" x="605.7"/><use href="#rl" xlink:href="#rl" x="662.1"/><use href="#rl" xlink:href="#rl" x="718.5"/><use href="#rl" xlink:href="#rl" x="774.9"/>
<use href="#rl" xlink:href="#rl" x="830.7"/><use href="#rl" xlink:href="#rl" x="887.1"/><use href="#rl" xlink:href="#rl" x="943.5"/><use href="#rl" xlink:href="#rl" x="999.9"/>
<use href="#rl" xlink:href="#rl" x="1056.8"/><use href="#rl" xlink:href="#rl" x="1113.2"/><use href="#rl" xlink:href="#rl" x="1169.6"/><use href="#rl" xlink:href="#rl" x="1226"/>
<use href="#rl" xlink:href="#rl" x="1295"/><use href="#rl" xlink:href="#rl" x="1351.4"/><use href="#rl" xlink:href="#rl" x="1407.8"/><use href="#rl" xlink:href="#rl" x="1464.2"/>

<!-- wiring texts -->
<g font-size="9.5">
<text x="528.2" y="480.5">25</text><text x="554.7" y="480.5">9</text><text x="581.1" y="480.5">4</text><text x="607.6" y="480.5">0</text>
</g>
<text x="528" y="530" font-size="9">all pag.2</text>
<g font-size="8" text-anchor="middle">
<text transform="translate(626.5 426) rotate(-90)">120</text><text transform="translate(653 426) rotate(-90)">121</text><text transform="translate(679.4 426) rotate(-90)">122</text><text transform="translate(705.9 426) rotate(-90)">123</text><text transform="translate(732.3 426) rotate(-90)">124</text><text transform="translate(758.8 426) rotate(-90)">125</text><text transform="translate(785.2 426) rotate(-90)">126</text><text transform="translate(811.7 426) rotate(-90)">127</text>
<text transform="translate(670 628) rotate(-90)">120</text><text transform="translate(687.9 628) rotate(-90)">121</text><text transform="translate(705.4 628) rotate(-90)">122</text><text transform="translate(723 628) rotate(-90)">123</text><text transform="translate(740.5 628) rotate(-90)">124</text><text transform="translate(758 628) rotate(-90)">125</text><text transform="translate(775.5 628) rotate(-90)">126</text><text transform="translate(792.9 628) rotate(-90)">127</text>
<text transform="translate(837.6 543.3) rotate(-90)">128</text><text transform="translate(864.1 532) rotate(-90)">129</text><text transform="translate(890.5 520.3) rotate(-90)">130</text><text transform="translate(917 508.7) rotate(-90)">131</text><text transform="translate(943.4 497.7) rotate(-90)">132</text><text transform="translate(969.9 486) rotate(-90)">133</text><text transform="translate(996.3 474.3) rotate(-90)">134</text><text transform="translate(1016 456) rotate(-90)">135</text>
<text transform="translate(1098 629) rotate(-90)">128</text><text transform="translate(1115.7 629) rotate(-90)">129</text><text transform="translate(1133.5 629) rotate(-90)">130</text><text transform="translate(1151 629) rotate(-90)">105</text><text transform="translate(1168.7 629) rotate(-90)">131</text><text transform="translate(1186.3 629) rotate(-90)">132</text><text transform="translate(1204 629) rotate(-90)">133</text><text transform="translate(1221.6 629) rotate(-90)">134</text>
<text transform="translate(1442.3 630) rotate(-90)">94</text><text transform="translate(1460 627) rotate(-90)">106</text>
</g>
<text x="815" y="632.8" font-size="9">105</text>
<text x="918" y="623.5" font-size="9" text-anchor="middle">94</text>
<text x="1050" y="597.5" font-size="9">106</text>
<g font-size="6" text-anchor="middle">
<text x="828.3" y="587">28</text><text x="855" y="587">29</text><text x="908.3" y="587">30</text><text x="952" y="586.5">31</text><text x="987.3" y="582">32</text><text x="1031.5" y="581">33</text><text x="973.3" y="612.5">40</text>
<text x="1079" y="405">33</text><text x="1299" y="405">34</text>
</g>
<text x="1249" y="411" font-size="8.5" text-anchor="middle">pag.2</text>
<text x="1246.5" y="450" font-size="9">4</text><text x="1264" y="450" font-size="9">0</text>
<text x="1142" y="422" font-size="9">d5</text><text x="1362" y="427" font-size="9">d4</text>
<g font-size="17" text-anchor="middle">
<text x="1118.3" y="281">C</text><text x="1151.7" y="281">O</text>
<text x="1341.7" y="497.5">C</text><text x="1375" y="497.5">O</text>
</g>
<g font-size="9.5" text-anchor="middle">
<text x="1145" y="299">7/4</text><text x="1329.3" y="515.5">10/7</text><text x="1368.3" y="515.5">9/7</text>
</g>
<text x="1411.7" y="538.5" font-size="8.5" text-anchor="middle">pag.4</text>
<text x="1391.7" y="577.5" font-size="9" text-anchor="middle">47</text><text x="1437.3" y="577.5" font-size="9" text-anchor="middle">48</text>
<!-- card texts -->
<text x="406" y="664" font-size="6.5" text-anchor="middle">CN6</text>
<g font-size="8" text-anchor="middle">
<text x="463.3" y="652.5">SC</text><text x="480.5" y="652.5">PT</text><text x="498" y="652.5">CP</text><text x="515.3" y="652.5">NP</text>
<text x="619.5" y="652.5" font-size="6.5">OUT</text>
</g>
<g font-size="8.5" text-anchor="middle">
<text x="463.8" y="677">TM1</text><text x="516.6" y="677">TM2</text><text x="570" y="677">TM3</text>
</g>
<g font-size="6.5">
<text x="528" y="660">CN1</text><text x="634" y="660">CN2</text><text x="806" y="668">CN3</text><text x="1271" y="667">CN4</text><text x="1510" y="667">CN5</text>
<text x="583" y="867.5">CN6</text><text x="812" y="867.5">CN6</text><text x="1041" y="867.5">CN7</text><text x="1272" y="867.5">CN8</text><text x="1511" y="867.5">CN9</text>
</g>
<g font-size="9" text-anchor="middle">
<text x="471.7" y="633.5">0/5V</text><text x="525" y="633.5">0V</text>
<text x="590.7" y="614.5">24/5V</text>
<text x="561.7" y="559.5">pag.5</text><text x="605" y="577.5">93</text>
<text x="483.3" y="606.8">52</text><text x="523.3" y="606.2">0</text>
</g>
<text x="501.7" y="567.5" font-size="8.5" text-anchor="middle">pag.4</text>
<text x="956" y="670" font-size="11">u8</text>
<g font-size="7" text-anchor="middle">
<text x="672.5" y="652.5">1</text><text x="690.4" y="652.5">2</text><text x="707.9" y="652.5">3</text><text x="725.5" y="652.5">4</text><text x="743" y="652.5">5</text><text x="760.5" y="652.5">6</text><text x="778" y="652.5">7</text><text x="795.4" y="652.5">8</text>
<text x="1100.5" y="652.5">9</text><text x="1118.2" y="652.5">10</text><text x="1135.9" y="652.5">11</text><text x="1153.5" y="652.5">12</text><text x="1171.2" y="652.5">13</text><text x="1188.8" y="652.5">14</text><text x="1206.5" y="652.5">15</text><text x="1224.1" y="652.5">16</text><text x="1241.8" y="652" font-size="5.5">+24V</text><text x="1259.4" y="652" font-size="5.5">GND</text>
<text x="1409.5" y="652.5">17</text><text x="1427.2" y="652.5">18</text><text x="1444.8" y="652.5">19</text><text x="1462.5" y="652.5">20</text>
</g>
<g font-size="9" text-anchor="middle">
<text x="396.6" y="806.3">R1</text><text x="453" y="806.3">R2</text><text x="509.4" y="806.3">R3</text><text x="565.8" y="806.3">R4</text>
<text x="623" y="806.3">R5</text><text x="679.4" y="806.3">R6</text><text x="735.8" y="806.3">R7</text><text x="792.2" y="806.3">R8</text>
<text x="848" y="806.3">R9</text><text x="904.4" y="806.3">R10</text><text x="960.8" y="806.3">R11</text><text x="1017.2" y="806.3">R12</text>
<text x="1074.1" y="806.3">R13</text><text x="1130.5" y="806.3">R14</text><text x="1186.9" y="806.3">R15</text><text x="1243.3" y="806.3">R16</text>
<text x="1312.3" y="806.3">R17</text><text x="1368.7" y="806.3">R18</text><text x="1425.1" y="806.3">R19</text><text x="1481.5" y="806.3">R20</text>
</g>
<g font-size="5.5" text-anchor="middle">
<text x="380.45" y="881">11</text><text x="397.95" y="881">14</text><text x="415.45" y="881">12</text><text x="432.95" y="881">21</text><text x="450.45" y="881">24</text><text x="467.95" y="881">22</text><text x="485.45" y="881">31</text><text x="502.95" y="881">34</text><text x="520.45" y="881">32</text><text x="537.95" y="881">41</text><text x="555.45" y="881">44</text><text x="572.95" y="881">42</text>
<text x="608.45" y="881">51</text><text x="625.95" y="881">54</text><text x="643.45" y="881">52</text><text x="660.95" y="881">61</text><text x="678.45" y="881">64</text><text x="695.95" y="881">62</text><text x="713.45" y="881">71</text><text x="730.95" y="881">74</text><text x="748.45" y="881">72</text><text x="765.95" y="881">81</text><text x="783.45" y="881">84</text><text x="800.95" y="881">82</text>
<text x="837.75" y="881">91</text><text x="855.25" y="881">94</text><text x="872.75" y="881">92</text><text x="890.25" y="881">101</text><text x="907.75" y="881">104</text><text x="925.25" y="881">102</text><text x="942.75" y="881">111</text><text x="960.25" y="881">114</text><text x="977.75" y="881">112</text><text x="995.25" y="881">121</text><text x="1012.75" y="881">124</text><text x="1030.25" y="881">122</text>
<text x="1066.25" y="881">131</text><text x="1083.75" y="881">134</text><text x="1101.25" y="881">132</text><text x="1118.75" y="881">141</text><text x="1136.25" y="881">144</text><text x="1153.75" y="881">142</text><text x="1171.25" y="881">151</text><text x="1188.75" y="881">154</text><text x="1206.25" y="881">152</text><text x="1223.75" y="881">161</text><text x="1241.25" y="881">164</text><text x="1258.75" y="881">162</text>
<text x="1305.6" y="881">171</text><text x="1323.4" y="881">174</text><text x="1341.2" y="881">172</text><text x="1359" y="881">181</text><text x="1376.8" y="881">184</text><text x="1394.6" y="881">182</text><text x="1412.4" y="881">191</text><text x="1430.2" y="881">194</text><text x="1448" y="881">192</text><text x="1465.8" y="881">201</text><text x="1483.6" y="881">204</text><text x="1501.4" y="881">202</text>
</g>
<g font-size="9.5" text-anchor="middle">
<text x="380.45" y="943.5">12</text><text x="397.95" y="943.5">16</text><text x="432.95" y="943.5">108</text><text x="450.45" y="943.5">8</text><text x="485.45" y="943.5">84</text><text x="502.95" y="943.5">85</text><text x="537.95" y="943.5">6</text><text x="555.45" y="943.5">18</text>
<text x="608.45" y="943.5">0</text><text x="625.95" y="943.5">19</text><text x="660.95" y="943.5">5</text><text x="678.45" y="943.5">81</text><text x="713.45" y="943.5">0</text><text x="730.95" y="943.5">88</text><text x="765.95" y="943.5">58</text><text x="783.45" y="943.5">4</text>
<text x="837.75" y="943.5">80</text><text x="855.25" y="943.5">87</text><text x="890.25" y="943.5">82</text><text x="907.75" y="943.5">0</text><text x="942.75" y="943.5">6</text><text x="960.25" y="943.5">81</text><text x="995.25" y="943.5">58</text><text x="1012.75" y="943.5">52</text><text x="1030.25" y="943.5">15</text>
<text x="1066.25" y="943.5">0</text><text x="1083.75" y="943.5">74</text><text x="1118.75" y="943.5">0</text><text x="1136.25" y="943.5">76</text><text x="1171.25" y="943.5">0</text><text x="1188.75" y="943.5">80</text><text x="1223.75" y="943.5">0</text><text x="1241.25" y="943.5">81</text>
<text x="1305.6" y="943.5">12</text><text x="1323.4" y="943.5">14</text><text x="1359" y="943.5">12</text><text x="1376.8" y="943.5">13</text><text x="1412.4" y="943.5">73</text><text x="1430.2" y="943.5">4</text><text x="1465.8" y="943.5">6</text><text x="1483.6" y="943.5">104</text>
</g>

<!-- bottom -->
<rect x="1293.3" y="988.3" width="206.7" height="20" fill="none" stroke="#000" stroke-width="1"/>
<text x="1300" y="1004" font-size="12" style="font-style:normal;font-weight:normal" fill="#444">ELETTRONIC SCHEME AUX</text>
<rect x="0" y="1000.5" width="1614" height="4.5" fill="#d4d4d4"/>
<rect x="195" y="1000.5" width="47" height="4.5" fill="#f0a24a"/>
</svg>
</body></html>
